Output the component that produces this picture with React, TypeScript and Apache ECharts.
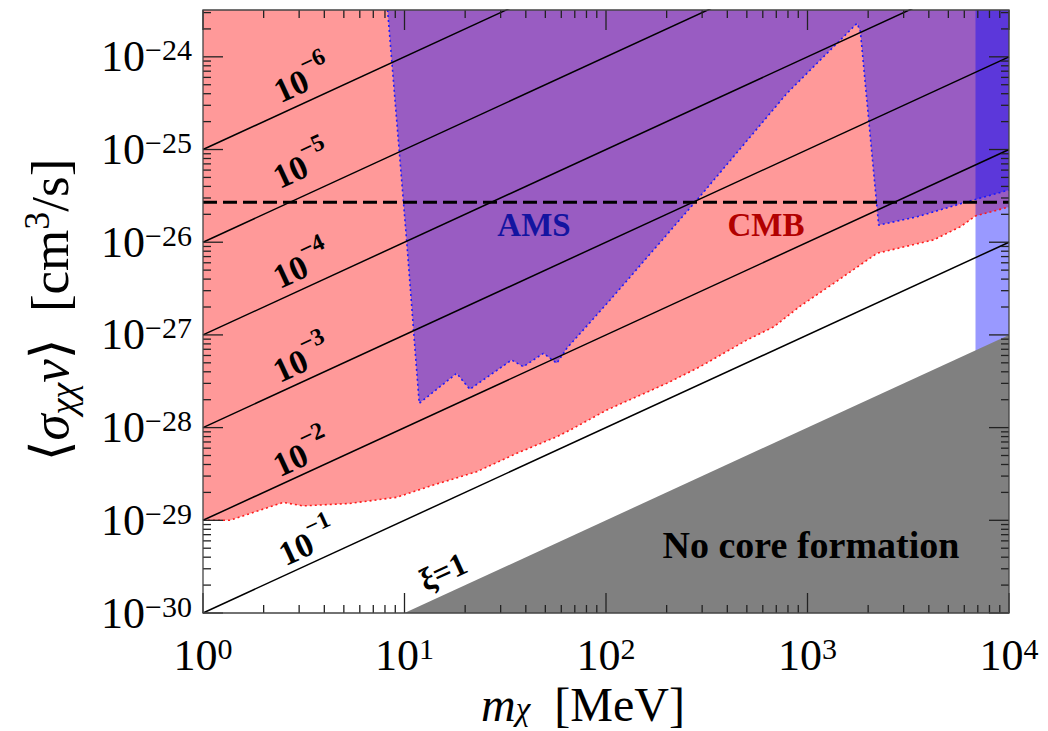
import React, { useEffect, useRef } from "react";
import * as echarts from "echarts";

const SERIF = "'Liberation Serif', 'DejaVu Serif', 'Times New Roman', serif";

// The y axis is drawn in units of 1e-30 cm^3/s (log axis rounding breaks on tiny numbers)
const Y_UNIT = 1e-30;
const Y_UNIT_EXP = -30;

// Axis ranges
const X_MIN = 1;
const X_MAX = 1e4;
const Y_MIN = 1e-30;
const Y_MAX = 3.2e-24;

// Tick values
const xMajorTicks = [1, 10, 100, 1000, 10000];
const yMajorTicks = [1e-30, 1e-29, 1e-28, 1e-27, 1e-26, 1e-25, 1e-24];
const minorMultipliers = [2, 3, 4, 5, 6, 7, 8, 9];

// CMB bound (lower edge of excluded region)
const cmbMass = [1, 1.36, 2.5, 3.14, 5.35, 9.14, 13.9, 22.8, 36.1, 57, 66.3, 101, 200, 293, 500, 679, 921, 1349, 2214, 4230, 5740, 6820, 10000];
const cmbSigma = [1e-29, 1e-29, 1.56e-29, 1.43e-29, 1.52e-29, 1.77e-29, 2.4e-29, 3.34e-29, 5.28e-29, 7.98e-29, 9.4e-29, 1.55e-28, 3.0e-28, 4.54e-28, 8.8e-28, 1.22e-27, 2.05e-27, 3.6e-27, 7.6e-27, 1.06e-26, 1.47e-26, 1.92e-26, 2.4e-26];

// AMS bound (lower edge of excluded region)
const amsMass = [8.24, 10.24, 11.83, 18.15, 21.1, 34.0, 38.9, 48.9, 57, 63.9, 104.8, 282.6, 791, 1762, 1830, 2255, 3500, 6200, 10000];
const amsSigma = [3.2e-24, 1.06e-26, 1.83e-28, 3.85e-28, 2.59e-28, 5.36e-28, 4.54e-28, 6.33e-28, 4.94e-28, 7.17e-28, 2.38e-27, 2.85e-26, 4.04e-25, 2.3e-24, 1.87e-24, 1.53e-26, 1.88e-26, 2.73e-26, 3.66e-26];

// Narrow high-mass band
const bandMass = [6820, 10000, 10000, 6820];
const bandSigma = [2e-28, 2e-28, 3.2e-24, 3.2e-24];

// No core formation (below xi = 1)
const noCoreMass = [10, 10000, 10000];
const noCoreSigma = [1e-30, 1e-27, 1e-30];

// xi contours
const xiExponents = [-1, -2, -3, -4, -5, -6];
const xiMass = [1, 10000];
const xiSigmaAtMin = [1e-30, 1e-29, 1e-28, 1e-27, 1e-26, 1e-25];
const xiSigmaAtMax = [1e-26, 1e-25, 1e-24, 1e-23, 1e-22, 1e-21];

// Thermal relic cross section
const relicMass = [1, 10000];
const relicSigma = [2.7e-26, 2.7e-26];

const xiLabelPos = [
  [305.7, 539],
  [300, 450],
  [300, 355.7],
  [300, 261.7],
  [300, 161.7],
  [300.7, 76],
];

const toAxis = (v: number) => v / Y_UNIT;

function minorTicks(majors: number[], maxVal: number) {
  const out: number[] = [];
  majors.forEach((m) => {
    minorMultipliers.forEach((k) => {
      const v = m * k;
      if (v < maxVal) out.push(v);
    });
  });
  return out;
}

const pairs = (xs: number[], ys: number[]) => xs.map((x, i) => [x, toAxis(ys[i])]);

const polygonSeries = (name: string, xs: number[], ys: number[], fill: string) => ({
  type: "custom",
  name,
  xAxisIndex: 0,
  yAxisIndex: 0,
  data: [[xs[0], toAxis(ys[0])]],
  silent: true,
  clip: true,
  z: 2,
  renderItem: (_params: any, api: any) => ({
    type: "polygon",
    shape: { points: xs.map((x, i) => api.coord([x, toAxis(ys[i])])) },
    style: { fill },
  }),
});

export default function App() {
  const ref = useRef<HTMLDivElement>(null);

  useEffect(() => {
    if (!ref.current) return;
    const chart = echarts.init(ref.current, null, { renderer: "svg" });

    const yMajorAxis = yMajorTicks.map(toAxis);
    const xMinor = minorTicks(xMajorTicks, X_MAX);
    const yMinor = minorTicks(yMajorAxis, toAxis(Y_MAX));

    const tickColor = "#222";

    const labelRich = {
      b: { fontFamily: SERIF, fontSize: 44, lineHeight: 44, verticalAlign: "bottom", color: "#000" },
      s: { fontFamily: SERIF, fontSize: 30, lineHeight: 16, verticalAlign: "top", color: "#000" },
    };

    const expText = (e: number) => (e < 0 ? "\u2212" + Math.abs(e) : String(e));
    const xLabel = (v: number) => `{b|10}{s|${expText(Math.round(Math.log10(v)))}}`;
    const yLabel = (v: number) => `{b|10}{s|${expText(Math.round(Math.log10(v)) + Y_UNIT_EXP)}}`;

    // frame and inward ticks on all four sides, placed through the axes' scales
    const frameSeries = {
      type: "custom",
      name: "frame",
      xAxisIndex: 0,
      yAxisIndex: 0,
      data: [[X_MIN, toAxis(Y_MIN)]],
      silent: true,
      clip: false,
      z: 20,
      renderItem: (_params: any, api: any) => {
        const [xl, yb] = api.coord([X_MIN, toAxis(Y_MIN)]);
        const [xr, yt] = api.coord([X_MAX, toAxis(Y_MAX)]);
        const children: any[] = [];
        const seg = (a: number, b: number, c: number, d: number) =>
          children.push({
            type: "line",
            shape: { x1: a, y1: b, x2: c, y2: d },
            style: { stroke: tickColor, lineWidth: 1.3 },
          });
        const xTick = (v: number, len: number) => {
          const px = api.coord([v, toAxis(Y_MIN)])[0];
          seg(px, yb, px, yb - len);
          seg(px, yt, px, yt + len);
        };
        const yTick = (v: number, len: number) => {
          const py = api.coord([X_MIN, v])[1];
          seg(xl, py, xl + len, py);
          seg(xr, py, xr - len, py);
        };
        xMajorTicks.forEach((v) => xTick(v, 20));
        xMinor.forEach((v) => xTick(v, 8));
        yMajorAxis.forEach((v) => yTick(v, 20));
        yMinor.forEach((v) => yTick(v, 8));
        children.push({
          type: "rect",
          shape: { x: xl, y: yt, width: xr - xl, height: yb - yt },
          style: { fill: "none", stroke: "#444", lineWidth: 1.3 },
        });
        return { type: "group", children };
      },
    };

    const xiSeries = xiExponents.map((e, i) => ({
      type: "line",
      name: "xi=1e" + e,
      data: [
        [xiMass[0], toAxis(xiSigmaAtMin[i])],
        [xiMass[1], toAxis(xiSigmaAtMax[i])],
      ],
      symbol: "none",
      lineStyle: { color: "#000", width: 1.5 },
      silent: true,
      clip: true,
    }));

    const boldRich = {
      b: { fontFamily: SERIF, fontWeight: "bold", fontSize: 34, lineHeight: 44, verticalAlign: "bottom", fill: "#000" },
      s: { fontFamily: SERIF, fontWeight: "bold", fontSize: 24, lineHeight: 24, verticalAlign: "top", fill: "#000" },
    };
    const ANG = Math.atan(92.7 / 201.3);

    const xiLabels = xiExponents.map((e, i) => ({
      type: "text",
      x: xiLabelPos[i][0],
      y: xiLabelPos[i][1],
      rotation: ANG,
      z: 50,
      style: {
        text: `{b|10}{s|\u2212${Math.abs(e)}}`,
        rich: boldRich,
        align: "center",
        verticalAlign: "middle",
      },
    }));

    const option = {
      animation: false,
      backgroundColor: "#fff",
      grid: { left: 203, right: 39, top: 10, bottom: 118, containLabel: false, outerBoundsMode: "none" },
      xAxis: {
        type: "log",
        position: "bottom",
        min: X_MIN,
        max: X_MAX,
        axisLine: { show: false, onZero: false },
        axisTick: { show: false },
        axisLabel: {
          show: true,
          customValues: xMajorTicks,
          margin: 20,
          showMinLabel: true,
          showMaxLabel: true,
          formatter: xLabel,
          rich: labelRich,
        },
        splitLine: { show: false },
        minorTick: { show: false },
      },
      yAxis: {
        type: "log",
        position: "left",
        min: toAxis(Y_MIN),
        max: toAxis(Y_MAX),
        axisLine: { show: false, onZero: false },
        axisTick: { show: false },
        axisLabel: {
          show: true,
          customValues: yMajorAxis,
          margin: 11,
          showMinLabel: true,
          showMaxLabel: true,
          formatter: yLabel,
          rich: labelRich,
        },
        splitLine: { show: false },
        minorTick: { show: false },
      },
      series: [
        polygonSeries("CMB area", [...cmbMass, X_MAX, X_MIN], [...cmbSigma, Y_MAX, Y_MAX], "#ff9999"),
        {
          type: "line",
          name: "CMB",
          data: pairs(cmbMass, cmbSigma),
          symbol: "none",
          lineStyle: { color: "#ff1a1a", width: 1.6, type: [2, 3] },
          clip: true,
          silent: true,
        },
        polygonSeries("AMS area", [...amsMass, X_MAX], [...amsSigma, Y_MAX], "rgba(0,0,255,0.4)"),
        {
          type: "line",
          name: "AMS",
          data: pairs(amsMass, amsSigma),
          symbol: "none",
          lineStyle: { color: "#1a1aff", width: 1.6, type: [2, 3] },
          clip: true,
          silent: true,
        },
        polygonSeries("band", bandMass, bandSigma, "rgba(0,0,255,0.4)"),
        polygonSeries("No core formation", noCoreMass, noCoreSigma, "#808080"),
        ...xiSeries,
        {
          type: "line",
          name: "relic",
          data: pairs(relicMass, relicSigma),
          symbol: "none",
          lineStyle: { color: "#000", width: 3, type: [14, 6] },
          clip: true,
          silent: true,
        },
        frameSeries,
      ],
      graphic: [
        ...xiLabels,
        {
          type: "text",
          x: 443,
          y: 572,
          rotation: ANG,
          z: 50,
          style: {
            text: "\u03be=1",
            font: `bold 32px ${SERIF}`,
            fill: "#000",
            align: "center",
            verticalAlign: "middle",
          },
        },
        {
          type: "text",
          x: 534,
          y: 225,
          z: 50,
          style: {
            text: "AMS",
            font: `bold 33px ${SERIF}`,
            fill: "#1414a0",
            align: "center",
            verticalAlign: "middle",
          },
        },
        {
          type: "text",
          x: 766,
          y: 225,
          z: 50,
          style: {
            text: "CMB",
            font: `bold 33px ${SERIF}`,
            fill: "#b20000",
            align: "center",
            verticalAlign: "middle",
          },
        },
        {
          type: "text",
          x: 811,
          y: 545,
          z: 50,
          style: {
            text: "No core formation",
            font: `bold 38px ${SERIF}`,
            fill: "#000",
            align: "center",
            verticalAlign: "middle",
          },
        },
        {
          type: "text",
          x: 583,
          y: 704,
          z: 50,
          style: {
            text: "{i|m}{sub|\u03c7}{r|  [MeV]}",
            align: "center",
            verticalAlign: "middle",
            rich: {
              i: { fontFamily: SERIF, fontStyle: "italic", fontSize: 48, lineHeight: 42, verticalAlign: "middle", fill: "#000" },
              sub: { fontFamily: SERIF, fontStyle: "italic", fontSize: 33, lineHeight: 20, verticalAlign: "bottom", fill: "#000" },
              r: { fontFamily: SERIF, fontSize: 48, lineHeight: 42, verticalAlign: "middle", fill: "#000" },
            },
          },
        },
        {
          type: "text",
          x: 50,
          y: 310,
          rotation: Math.PI / 2,
          z: 50,
          style: {
            text: "{r|\u27e8}{i|\u03c3}{sub|\u03c7\u03c7}{i|v}{r|\u27e9  [cm}{sup|3}{r|/s]}",
            align: "center",
            verticalAlign: "middle",
            rich: {
              i: { fontFamily: SERIF, fontStyle: "italic", fontSize: 53, lineHeight: 62, verticalAlign: "middle", fill: "#000" },
              r: { fontFamily: SERIF, fontSize: 53, lineHeight: 62, verticalAlign: "middle", fill: "#000" },
              sub: { fontFamily: SERIF, fontStyle: "italic", fontSize: 36, lineHeight: 36, verticalAlign: "bottom", fill: "#000" },
              sup: { fontFamily: SERIF, fontSize: 36, lineHeight: 36, verticalAlign: "top", fill: "#000" },
            },
          },
        },
      ],
    };

    chart.setOption(option as any);
    return () => chart.dispose();
  }, []);

  return (
    <div
      ref={ref}
      style={{ position: "fixed", left: 0, top: 0, width: 1048, height: 731, background: "#fff" }}
    />
  );
}
